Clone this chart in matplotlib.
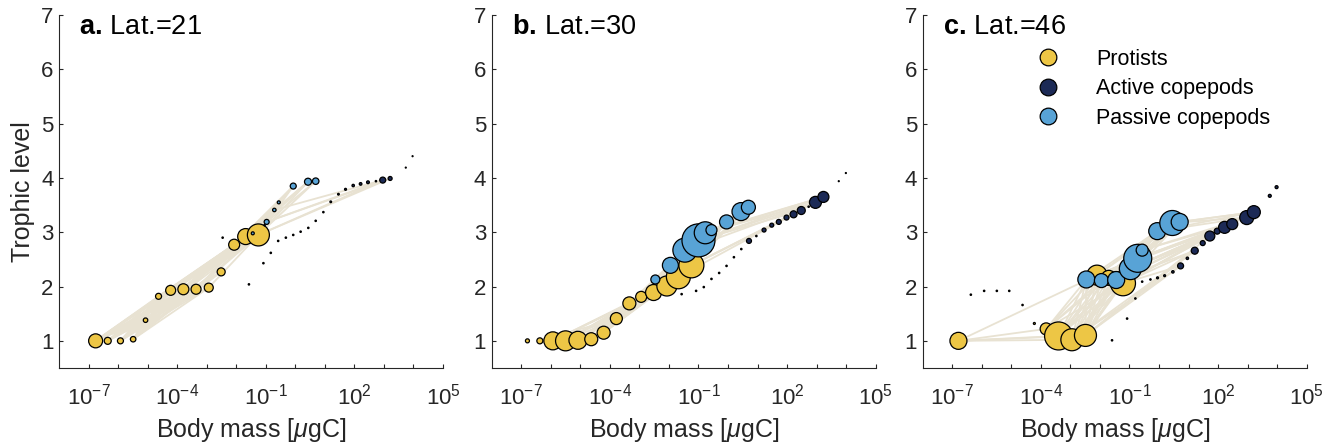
import matplotlib
matplotlib.use('Agg')
import matplotlib.pyplot as plt
from matplotlib.lines import Line2D

plt.rcParams['font.family'] = ['Liberation Sans', 'DejaVu Sans']
plt.rcParams['mathtext.fontset'] = 'custom'
plt.rcParams['mathtext.rm'] = 'Liberation Sans'
plt.rcParams['mathtext.it'] = 'Liberation Sans:italic'
plt.rcParams['mathtext.bf'] = 'Liberation Sans:bold'

# ---------------- data ----------------
group_names = ['Protists', 'Active copepods', 'Passive copepods']
group_colors = ['#EDC645', '#1C2A56', '#58A3D6']
panel_letters = ['a.', 'b.', 'c.']
latitudes = [21, 30, 46]

xtick_exponents = [-7, -6, -5, -4, -3, -2, -1, 0, 1, 2, 3, 4, 5]
xtick_labels = ['$10^{-7}$', '', '', '$10^{-4}$', '', '', '$10^{-1}$', '', '',
                '$10^{2}$', '', '', '$10^{5}$']
ytick_values = [1, 2, 3, 4, 5, 6, 7]

# ---- panel a (Lat. 21) ----
a_log_mass = [-6.76, -6.35, -5.92, -5.49, -5.07, -4.63, -4.22, -3.79, -3.36, -2.93, -2.51, -2.46, -2.07, -1.68, -1.25,
              -1.57, -1.08, -0.83, -0.58, -0.32, -0.07, 0.18, 0.44, 0.69, 0.95, 1.20, 1.46, 1.70, 1.96, 2.21, 2.46, 2.73, 2.96, 3.21, 3.74, 3.97,
              -1.44, -1.04, -0.97, -0.71, -0.56, -0.07, 0.43, 0.69]
a_trophic = [1.00, 1.00, 1.00, 1.03, 1.38, 1.82, 1.93, 1.95, 1.95, 1.98, 2.27, 2.90, 2.77, 2.92, 2.95,
             2.04, 2.43, 2.62, 2.84, 2.90, 2.95, 3.01, 3.08, 3.21, 3.37, 3.56, 3.70, 3.79, 3.86, 3.89, 3.92, 3.94, 3.96, 3.99, 4.19, 4.40,
             2.98, 3.13, 3.19, 3.41, 3.55, 3.85, 3.93, 3.94]
a_biomass = [196, 49, 36, 30, 20, 36, 100, 121, 100, 81, 64, 2, 121, 256, 484,
             2, 2, 2, 2, 2, 2, 2, 2, 2, 2, 3, 3, 4, 6, 7, 8, 2, 36, 16, 1, 1,
             9, 2, 25, 12, 9, 36, 49, 42]
a_group = [0] * 15 + [1] * 21 + [2] * 8
a_diet = {4: [0, 1], 5: [0, 1, 2, 3], 6: [0, 1, 2, 3], 7: [0, 1, 2, 3], 8: [0, 1, 2, 3],
          9: [0, 1, 2, 3], 10: [0, 1, 2, 3, 4], 12: [0, 1, 2, 3, 4, 5, 6],
          13: [0, 1, 2, 3, 4, 5, 6, 7, 8], 14: [0, 1, 2, 3, 5, 6, 7, 8, 9],
          38: [12, 13], 39: [12, 13], 40: [13, 14], 41: [12, 13, 14, 36],
          42: [13, 14, 36, 39], 43: [14, 38], 32: [14, 38, 39], 33: [14, 38]}

# ---- panel b (Lat. 30) ----
b_log_mass = [-6.79, -6.37, -5.93, -5.50, -5.08, -4.63, -4.21, -3.78, -3.34, -2.94, -2.52, -2.07, -1.68, -1.24,
              -1.57, -1.08, -0.82, -0.56, -0.30, -0.05, 0.20, 0.45, 0.71, 0.96, 1.22, 1.48, 1.72, 1.98, 2.22, 2.48, 2.73, 2.96, 3.23, 3.75, 3.99,
              -2.46, -1.95, -1.46, -1.00, -0.77, -0.56, -0.05, 0.44, 0.69]
b_trophic = [1.00, 1.00, 1.00, 1.00, 1.01, 1.03, 1.15, 1.41, 1.69, 1.81, 1.89, 2.01, 2.18, 2.39,
             1.86, 1.92, 1.99, 2.14, 2.25, 2.38, 2.54, 2.69, 2.84, 2.93, 3.04, 3.13, 3.19, 3.27, 3.33, 3.40, 3.47, 3.55, 3.65, 3.94, 4.09,
             2.13, 2.39, 2.67, 2.85, 2.99, 3.04, 3.19, 3.38, 3.46]
b_biomass = [16, 36, 324, 400, 324, 169, 169, 144, 169, 121, 256, 400, 576, 625,
             2, 2, 2, 2, 2, 2, 2, 2, 25, 2, 16, 16, 25, 25, 49, 64, 2, 144, 121, 1, 1,
             81, 256, 576, 1089, 484, 121, 196, 324, 196]
b_group = [0] * 14 + [1] * 21 + [2] * 9
b_diet = {6: [1, 2, 3, 4], 7: [1, 2, 3, 4, 5], 8: [2, 3, 4, 5], 9: [2, 3, 4, 5],
          10: [2, 3, 4, 5, 6], 11: [3, 4, 5, 6, 7], 12: [4, 5, 6, 7, 8], 13: [5, 6, 7, 8, 9],
          35: [6, 7, 8], 36: [7, 8, 9, 10], 37: [8, 9, 10, 11], 38: [9, 10, 11, 12],
          39: [10, 11, 12], 40: [11, 12], 41: [12, 13, 35], 42: [13, 36, 37], 43: [13, 37, 38],
          28: [12, 13], 29: [13, 38], 31: [13, 37, 38, 39], 32: [38, 39, 40]}

# ---- panel c (Lat. 46) ----
c_log_mass = [-6.79, -6.37, -5.92, -5.49, -5.07, -4.62, -4.22, -3.82, -3.40, -2.95, -2.49, -2.10, -1.70, -1.22,
              -1.59, -1.08, -0.80, -0.57, -0.29, -0.05, 0.19, 0.47, 0.73, 0.96, 1.21, 1.48, 1.72, 1.97, 2.22, 2.48, 2.97, 3.21, 3.75, 3.98,
              -2.46, -1.95, -1.45, -0.97, -0.72, -0.57, -0.06, 0.45, 0.70]
c_trophic = [1.00, 1.85, 1.92, 1.92, 1.92, 1.66, 1.32, 1.22, 1.09, 1.02, 1.10, 2.21, 2.16, 2.06,
             1.01, 1.41, 1.78, 2.09, 2.13, 2.16, 2.20, 2.27, 2.38, 2.52, 2.66, 2.80, 2.93, 3.02, 3.09, 3.15, 3.27, 3.37, 3.67, 3.83,
             2.13, 2.11, 2.12, 2.33, 2.52, 2.67, 3.02, 3.17, 3.19]
c_biomass = [289, 2, 2, 2, 2, 2, 4, 144, 784, 484, 484, 400, 225, 625,
             2, 2, 2, 2, 2, 4, 4, 6, 36, 6, 49, 25, 100, 36, 144, 121, 196, 169, 9, 9,
             289, 196, 289, 484, 784, 144, 289, 625, 289]
c_group = [0] * 14 + [1] * 20 + [2] * 9
c_diet = {7: [0], 8: [0], 9: [0], 10: [0], 11: [0, 7, 8, 9, 10], 12: [7, 8, 9, 10], 13: [7, 8, 9, 10],
          34: [7, 8, 9, 10], 35: [7, 8, 9, 10], 36: [8, 9, 10],
          37: [8, 9, 10, 11, 12, 34], 38: [8, 9, 10, 11, 12, 13, 34, 35], 39: [9, 10, 13, 35],
          40: [11, 12, 13, 34, 35, 36], 41: [11, 12, 13, 35, 36, 37], 42: [12, 13, 36, 37, 38],
          22: [9, 10, 13], 24: [9, 10, 13, 36], 26: [10, 13, 36, 37], 27: [13, 37, 38],
          28: [11, 12, 13, 36, 37, 38], 29: [13, 37, 38, 39], 30: [38, 39, 40, 41], 31: [40, 41, 42]}

panels = [(a_log_mass, a_trophic, a_biomass, a_group, a_diet),
          (b_log_mass, b_trophic, b_biomass, b_group, b_diet),
          (c_log_mass, c_trophic, c_biomass, c_group, c_diet)]

# ---------------- figure ----------------
W, H = 1335, 448
fig = plt.figure(figsize=(W / 100, H / 100), dpi=100)
axis_color = '#262626'
link_color = '#E8E2D2'
size_scale = 0.72 ** 2

lefts_px = [59, 491.7, 922.7]
for k, (lm, tl, bio, grp, diet) in enumerate(panels):
    ax = fig.add_axes([lefts_px[k] / W, (H - 368) / H, 384 / W, 353 / H])
    mass = [10.0 ** v for v in lm]
    # trophic links
    for pred, preys in diet.items():
        for prey in preys:
            ax.plot([mass[prey], mass[pred]], [tl[prey], tl[pred]],
                    color=link_color, lw=1.3, zorder=1, solid_capstyle='round')
    # nodes
    for g in range(3):
        idx = [i for i in range(len(lm)) if grp[i] == g]
        ax.scatter([mass[i] for i in idx], [tl[i] for i in idx],
                   s=[bio[i] * size_scale for i in idx], c=group_colors[g],
                   edgecolors='black', linewidths=0.9, zorder=3 + g)
    ax.set_xscale('log')
    ax.set_xlim(1e-8, 1e5)
    ax.set_ylim(0.5, 7)
    ax.set_xticks([10.0 ** e for e in xtick_exponents])
    ax.set_xticklabels(xtick_labels)
    ax.xaxis.set_minor_locator(matplotlib.ticker.NullLocator())
    ax.set_yticks(ytick_values)
    ax.set_yticklabels([str(v) for v in ytick_values])
    for s in ['top', 'right']:
        ax.spines[s].set_visible(False)
    for s in ['left', 'bottom']:
        ax.spines[s].set_color(axis_color)
        ax.spines[s].set_linewidth(0.8)
    ax.tick_params(direction='in', length=3, width=0.8, color=axis_color,
                   labelcolor=axis_color, labelsize=16)
    ax.tick_params(axis='x', pad=11)
    ax.tick_params(axis='y', pad=4)
    ax.set_xlabel(r'Body mass [$\mu$gC]', fontsize=18, color=axis_color, labelpad=5)
    if k == 0:
        ax.set_ylabel('Trophic level', fontsize=18, color=axis_color, labelpad=4)
    ax.text(0.052, 0.946, r'$\mathbf{%s}\,$Lat.=%d' % (panel_letters[k], latitudes[k]),
            transform=ax.transAxes, fontsize=19.5, va='baseline', ha='left', color='black')
    if k == 2:
        handles = [Line2D([], [], ls='', marker='o', ms=12, mfc=group_colors[g],
                          mec='black', mew=0.9) for g in range(3)]
        ax.legend(handles, group_names, loc='upper left', bbox_to_anchor=(0.299, 0.905),
                  frameon=False, fontsize=15.5, handlelength=1.0, handletextpad=1.73,
                  labelspacing=0.40, borderpad=0, borderaxespad=0)

fig.savefig('out.png', dpi=100)
